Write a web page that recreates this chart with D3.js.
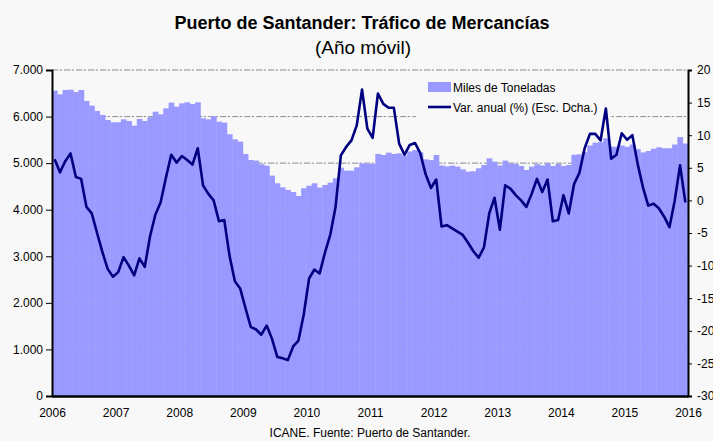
<!DOCTYPE html>
<html>
<head>
<meta charset="utf-8">
<title>Puerto de Santander: Tráfico de Mercancías</title>
<script src="https://d3js.org/d3.v7.min.js"></script>
<style>
  body { margin: 0; background: #f8f8f8; }
  svg { display: block; font-family: "Liberation Sans", Arial, sans-serif; }
  .axis text { font-size: 12px; fill: #000; }
  .axis path, .axis line { stroke: #000; }
</style>
</head>
<body>
<svg width="713" height="441"></svg>
<script>
// Year tick labels
const years = [2006, 2007, 2008, 2009, 2010, 2011, 2012, 2013, 2014, 2015, 2016]

// Miles de toneladas (año móvil), monthly Jan 2006 - Dec 2015
const toneladas = [
  6557, 6478, 6571, 6578, 6528, 6571, 6335, 6235, 6120, 6034, 5927, 5877,
  5877, 5941, 5905, 5805, 5948, 5905, 5984, 6105, 6048, 6177, 6299, 6213,
  6284, 6306, 6270, 6306, 5963, 5941, 6013, 5891, 5870, 5620, 5510, 5462,
  5197, 5068, 5054, 4976, 4947, 4732, 4567, 4481, 4424, 4380, 4295, 4460,
  4516, 4567, 4474, 4531, 4581, 4674, 4903, 4839, 4839, 4910, 4996, 4990,
  4985, 5197, 5175, 5225, 5197, 5211, 5160, 5250, 5280, 5230, 5082, 5068,
  5175, 4950, 4930, 4947, 4925, 4867, 4817, 4825, 4889, 4960, 5104, 5032,
  4950, 5054, 4996, 4982, 4939, 4853, 4925, 4976, 4950, 4996, 4939, 4982,
  4939, 4960, 5180, 5190, 5240, 5380, 5440, 5450, 5533, 5353, 5350, 5380,
  5350, 5400, 5300, 5230, 5260, 5310, 5340, 5320, 5318, 5400, 5560, 5420
]

// Var. anual (%), right scale
const varAnual = [
  6.3, 4.3, 6.0, 7.2, 3.6, 3.3, -1.0, -2.0, -5.0, -7.9, -10.5, -11.7,
  -11.0, -8.7, -10.0, -11.5, -8.9, -10.2, -5.5, -2.2, -0.3, 3.5, 7.0, 5.8,
  6.8, 6.2, 5.5, 8.0, 2.3, 1.0, 0.0, -3.2, -3.0, -8.5, -12.4, -13.5,
  -16.5, -19.4, -19.8, -20.6, -19.2, -21.2, -24.0, -24.2, -24.5, -22.4, -21.5, -17.5,
  -12.0, -10.6, -11.2, -8.0, -5.3, -1.0, 6.9, 8.2, 9.2, 11.5, 17.0, 11.0,
  9.6, 16.4, 14.8, 14.2, 14.2, 8.7, 7.0, 8.5, 8.8, 7.2, 4.0, 1.9,
  3.2, -4.0, -3.8, -4.3, -4.8, -5.3, -6.5, -7.8, -8.8, -7.2, -2.0, 0.4,
  -4.5, 2.3, 1.8, 0.8, 0.0, -1.0, 1.0, 3.3, 1.3, 3.2, -3.2, -3.0,
  0.8, -2.0, 2.5, 4.2, 8.0, 10.2, 10.2, 9.2, 14.1, 6.4, 7.0, 10.3,
  9.3, 10.0, 5.6, 2.0, -0.8, -0.5, -1.2, -2.5, -4.1, 0.0, 5.4, -0.3
]

const leftTicks = [0, 1000, 2000, 3000, 4000, 5000, 6000, 7000]
const rightTicks = [-30, -25, -20, -15, -10, -5, 0, 5, 10, 15, 20]

const plotLeft = 52
const plotRight = 688
const plotTop = 70
const plotBottom = 396

const svg = d3.select("svg")

svg.append("rect")
    .attr("width", 713).attr("height", 441)
    .attr("fill", "#f8f8f8")

const nMonths = toneladas.length

const x = d3.scaleLinear([0, nMonths], [plotLeft, plotRight])
const yLeft = d3.scaleLinear([0, 7000], [plotBottom, plotTop])
const yRight = d3.scaleLinear([-30, 20], [plotBottom, plotTop])

const es = d3.formatLocale({ decimal: ",", thousands: ".", grouping: [3], currency: ["", "€"] })
const fmtMiles = es.format(",.0f")

// gridlines behind bars
svg.append("g")
    .selectAll("line")
    .data(leftTicks.filter(d => d > 0))
    .join("line")
    .attr("x1", plotLeft).attr("x2", plotRight)
    .attr("y1", d => yLeft(d)).attr("y2", d => yLeft(d))
    .attr("stroke", "#8c8c8c")
    .attr("stroke-dasharray", "6,2,2,2")

// bars
svg.append("g")
    .selectAll("rect")
    .data(toneladas)
    .join("rect")
    .attr("x", (d, i) => x(i))
    .attr("width", (d, i) => x(i + 1) - x(i) + 0.4)
    .attr("y", d => yLeft(d))
    .attr("height", d => plotBottom - yLeft(d))
    .attr("fill", "#9999ff")

// faint grid over bars
svg.append("g")
    .selectAll("line")
    .data(leftTicks.filter(d => d > 0))
    .join("line")
    .attr("x1", plotLeft).attr("x2", plotRight)
    .attr("y1", d => yLeft(d)).attr("y2", d => yLeft(d))
    .attr("stroke", "#b4b4d8")
    .attr("stroke-opacity", 0.5)
    .attr("stroke-dasharray", "2,4")

// legend background hides the grid behind it
svg.append("rect")
    .attr("x", 416).attr("y", 76)
    .attr("width", 194).attr("height", 44)
    .attr("fill", "#f8f8f8")

// line
const line = d3.line()
    .x((d, i) => x(i + 0.5))
    .y(d => yRight(d))

svg.append("path")
    .datum(varAnual)
    .attr("d", line)
    .attr("fill", "none")
    .attr("stroke", "#000080")
    .attr("stroke-width", 2.6)
    .attr("stroke-linejoin", "round")

// axes
svg.append("g")
    .attr("class", "axis")
    .attr("transform", "translate(" + plotLeft + ",0)")
    .call(d3.axisLeft(yLeft).tickValues(leftTicks).tickFormat(fmtMiles).tickSizeOuter(0).tickSize(6).tickPadding(3))
    .call(g => g.select(".domain").attr("stroke-width", 2))

svg.append("g")
    .attr("class", "axis")
    .attr("transform", "translate(" + plotRight + ",0)")
    .call(d3.axisRight(yRight).tickValues(rightTicks).tickFormat(d => String(d)).tickSizeOuter(0).tickSize(4).tickPadding(5))
    .call(g => g.select(".domain").attr("stroke-width", 2))

svg.append("g")
    .attr("class", "axis")
    .attr("transform", "translate(0," + plotBottom + ")")
    .call(d3.axisBottom(x)
        .tickValues(years.map((y, i) => i * 12))
        .tickFormat((d, i) => years[i])
        .tickSize(0).tickPadding(12))
    .call(g => g.select(".domain").attr("stroke-width", 2.5))

// legend
const legend = svg.append("g").attr("font-size", 12)
legend.append("rect")
    .attr("x", 428).attr("y", 82)
    .attr("width", 23).attr("height", 10)
    .attr("fill", "#9999ff")
legend.append("text")
    .attr("x", 453).attr("y", 91.5)
    .text("Miles de Toneladas")
legend.append("line")
    .attr("x1", 428).attr("x2", 451)
    .attr("y1", 107).attr("y2", 107)
    .attr("stroke", "#000080").attr("stroke-width", 2.6)
legend.append("text")
    .attr("x", 453).attr("y", 111.5)
    .text("Var. anual (%) (Esc. Dcha.)")

// titles
svg.append("text")
    .attr("x", 362).attr("y", 29)
    .attr("text-anchor", "middle")
    .attr("font-size", 18).attr("font-weight", "bold")
    .text("Puerto de Santander: Tráfico de Mercancías")

svg.append("text")
    .attr("x", 363).attr("y", 54)
    .attr("text-anchor", "middle")
    .attr("font-size", 19)
    .text("(Año móvil)")

svg.append("text")
    .attr("x", 370).attr("y", 437)
    .attr("text-anchor", "middle")
    .attr("font-size", 12)
    .text("ICANE. Fuente: Puerto de Santander.")
</script>
</body>
</html>
